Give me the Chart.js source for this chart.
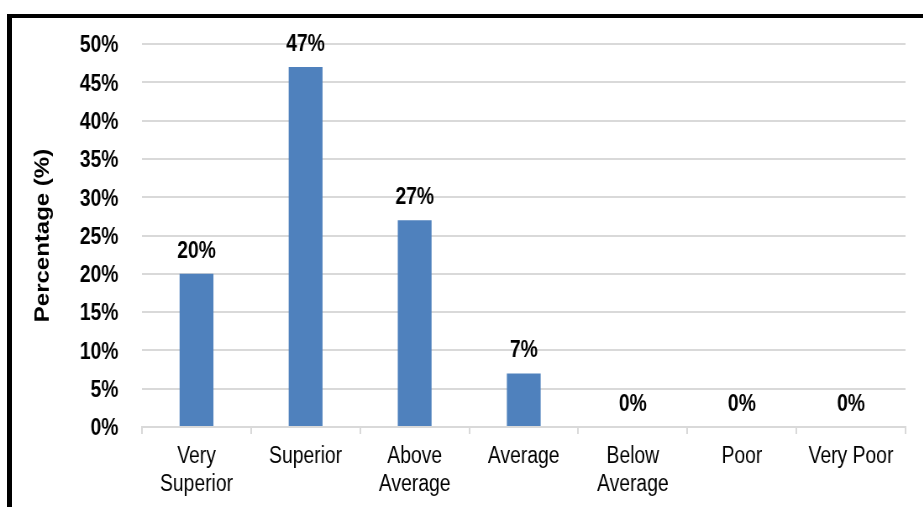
<!DOCTYPE html>
<html lang="en">
<head>
    <meta charset="UTF-8">
    <title>Rating distribution</title>
    <script src="https://cdn.jsdelivr.net/npm/chart.js@4.4.0/dist/chart.umd.min.js"></script>
    <style>
      html, body { margin: 0; padding: 0; background: #fff; }
      #wrap { position: relative; width: 923px; height: 507px; overflow: hidden; }
      #frame { position: absolute; left: 7px; top: 14px; width: 1000px; height: 600px;
               border-left: 5px solid #000; border-top: 4px solid #000; box-sizing: border-box; }
      /* the source picture is squeezed sideways, so draw wide and squeeze the canvas */
      canvas { position: absolute; left: 0; top: 0; transform: scaleX(0.84); transform-origin: 0 0; }
    </style>
</head>
<body>
  <div id="wrap">
    <div id="frame"></div>
    <canvas id="myChart" width="1099" height="507"></canvas>
  </div>

<script>
var categories = [['Very', 'Superior'], 'Superior', ['Above', 'Average'], 'Average', ['Below', 'Average'], 'Poor', 'Very Poor'];
var percentages = [20, 47, 27, 7, 0, 0, 0];
var yTicks = [0, 5, 10, 15, 20, 25, 30, 35, 40, 45, 50];

var sans = "'Liberation Sans', Arial, sans-serif";

// value labels above each bar
var barLabels = {
  id: 'barLabels',
  afterDatasetsDraw: function(chart) {
    var ctx = chart.ctx;
    var meta = chart.getDatasetMeta(0);
    ctx.save();
    ctx.font = 'bold 23px ' + sans;
    ctx.fillStyle = '#000';
    ctx.textAlign = 'center';
    ctx.textBaseline = 'alphabetic';
    meta.data.forEach(function(bar, i) {
      ctx.fillText(percentages[i] + '%', bar.x, bar.y - 16);
    });
    ctx.restore();
  }
};

var ctx = document.getElementById('myChart').getContext('2d');

var myChart = new Chart(ctx, {
  type: 'bar',
  data: {
    labels: categories,
    datasets: [{
      label: 'Percentage',
      data: percentages,
      backgroundColor: '#4f81bd',
      barPercentage: 0.31,
      categoryPercentage: 1.0
    }]
  },
  options: {
    responsive: false,
    animation: false,
    layout: { padding: { left: 0, right: 21, top: 44, bottom: 0 } },
    plugins: {
      legend: { display: false },
      tooltip: { enabled: false }
    },
    scales: {
      x: {
        grid: { offset: true, drawOnChartArea: false, color: '#d9d9d9', lineWidth: 2, tickLength: 7 },
        border: { color: '#d9d9d9', width: 2 },
        ticks: { color: '#000', font: { family: sans, size: 23, lineHeight: 1.25 }, padding: 8, maxRotation: 0, autoSkip: false },
        afterFit: function(s) { s.height = 80; }
      },
      y: {
        min: 0,
        max: 50,
        afterBuildTicks: function(s) { s.ticks = yTicks.map(function(v) { return { value: v }; }); },
        grid: { color: '#d9d9d9', lineWidth: 2, drawTicks: false },
        border: { display: false },
        ticks: {
          color: '#000',
          font: { family: sans, size: 23, weight: 'bold' },
          padding: 28,
          labelOffset: 2,
          callback: function(v) { return v + '%'; }
        },
        title: {
          display: true,
          text: 'Percentage (%)',
          color: '#000',
          font: { family: sans, size: 24, weight: 'bold' },
          padding: { top: 37, bottom: 0 }
        },
        afterFit: function(s) { s.width = 169; }
      }
    }
  },
  plugins: [barLabels]
});
</script>
</body>
</html>
